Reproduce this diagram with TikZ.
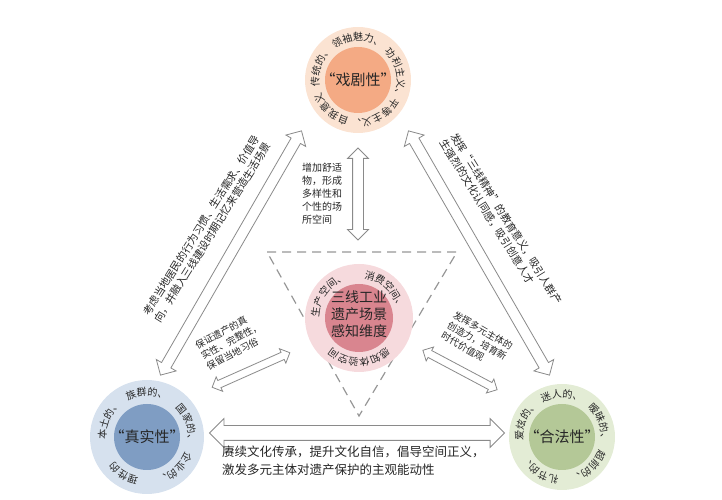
\documentclass[tikz,border=0pt]{standalone}
\usepackage{fontspec}
\setmainfont{Noto Sans CJK SC}
\usetikzlibrary{shapes.arrows,decorations.text}
\definecolor{ringT}{HTML}{FBE3D2}\definecolor{coreT}{HTML}{F4AA84}
\definecolor{ringL}{HTML}{D6E1EE}\definecolor{coreL}{HTML}{7F9DC3}
\definecolor{ringR}{HTML}{E3ECD5}\definecolor{coreR}{HTML}{B4C897}
\definecolor{ringC}{HTML}{F6DADD}\definecolor{coreC}{HTML}{D9858F}
\definecolor{arr}{HTML}{8A8A8A}
\tikzset{
  harrow/.style n args={3}{double arrow, draw=arr, fill=white, line width=0.8pt,
    inner xsep=0pt, inner ysep=0pt, text height=0.5*#2, text depth=0.5*#2, text width=0pt,
    minimum height=#1, double arrow head extend=#3, double arrow head indent=0pt},
  lbl/.style={font=\fontsize{10}{12.5}\selectfont, text=black!85, inner sep=0pt},
  core/.style={font=\fontsize{15}{18}\selectfont, text=black!85}
}
\newcommand{\ringtxt}[5]{%
  \path[decorate,decoration={text along path, text align=center,
    text format delimiters={|}{|}, text={|\fontsize{10}{12}\selectfont\color{black!85}|#5}}]
    (#1) ++(#3:#2) arc[start angle=#3, end angle=#4, radius=#2];}
\begin{document}
\begin{tikzpicture}[x=1pt,y=1pt]
\useasboundingbox (0,0) rectangle (722,500);
% circles
\coordinate (T) at (358,420); \coordinate (BL) at (147,63);
\coordinate (BR) at (562,63); \coordinate (C) at (359,182);
\fill[ringT] (T) circle (53); \fill[coreT] (T) circle (33);
\fill[ringL] (BL) circle (57); \fill[coreL] (BL) circle (33);
\fill[ringR] (BR) circle (53); \fill[coreR] (BR) circle (33);
% dashed triangle
\draw[arr!90, dash pattern=on 9pt off 6pt, line width=1.2pt]
  (267,248) coordinate (ta) -- (457,248) coordinate (tb) -- (359,84) coordinate (tc) -- cycle;
\fill[ringC] (C) circle (54); \fill[coreC] (C) circle (34);
% core labels
\node[core] (nT) at (T) {“戏剧性”};
\node[core] (nL) at (BL) {“真实性”};
\node[core] (nR) at (BR) {“合法性”};
\node[font=\fontsize{14}{17}\selectfont, align=center, text=black!85] (nC) at (359,186) {三线工业\\遗产场景\\感知维度};
% ring texts
\ringtxt{T}{39}{195}{125}{传统的、}
\ringtxt{T}{39}{128}{52}{领袖魅力、}
\ringtxt{T}{39}{45}{-25}{功利主义、}
\ringtxt{T}{39}{-28}{-98}{平等主义、}
\ringtxt{T}{39}{-100}{-165}{自我意义}
\ringtxt{BL}{41}{190}{122}{本土的、}
\ringtxt{BL}{41}{122}{58}{族群的、}
\ringtxt{BL}{41}{50}{-15}{国家的、}
\ringtxt{BL}{41}{-18}{-80}{企业的、}
\ringtxt{BL}{41}{-95}{-150}{理性的}
\ringtxt{BR}{39}{190}{122}{爱炫的、}
\ringtxt{BR}{39}{122}{58}{迷人的、}
\ringtxt{BR}{39}{52}{-12}{暧昧的、}
\ringtxt{BR}{39}{-15}{-82}{超前的、}
\ringtxt{BR}{39}{-92}{-155}{礼节的、}
\ringtxt{C}{40}{178}{108}{生产空间、}
\ringtxt{C}{40}{82}{12}{消费空间、}
\ringtxt{C}{40}{-40}{-140}{感知体验空间}
% arrows
\node[harrow={282}{10pt}{6pt}, rotate=60] (aL) at (231,247) {};
\node[harrow={282}{10pt}{6pt}, rotate=-60] (aR) at (479,247) {};
\node[harrow={295}{14pt}{7pt}] (aB) at (357,67) {};
\node[harrow={92}{10pt}{5pt}, rotate=90] (aV) at (358,306) {};
\node[harrow={85}{7pt}{4pt}, rotate=24] (aSL) at (251,130) {};
\node[harrow={84}{7pt}{4pt}, rotate=-28] (aSR) at (460,130) {};
% labels
\node[lbl, align=left, rotate=58, font=\fontsize{10.5}{13}\selectfont] (tL) at (207,271)
  {考虑当地居民的行为习惯、生活需求、价值导\\向，并融入三线建设时期记忆来营造生活场景};
\node[lbl, align=left, rotate=-58, font=\fontsize{10.5}{13}\selectfont] (tR) at (501,278)
  {发挥“三线精神”的教育意义，吸引人群产\\生强烈的文化认同感，吸引创意人才};
\node[lbl, align=left, anchor=north west, font=\fontsize{10}{13}\selectfont] (tV) at (302,337)
  {增加舒适\\物，形成\\多样性和\\个性的场\\所空间};
\node[lbl, align=left, rotate=28, font=\fontsize{9.5}{12}\selectfont] (tSL) at (231,159)
  {保证遗产的真\\实性、完整性，\\保留当地习俗};
\node[lbl, align=left, rotate=-30, font=\fontsize{9.5}{12}\selectfont] (tSR) at (477,159)
  {发挥多元主体的\\创造力，培育新\\时代价值观};
\node[lbl, align=left, anchor=north west, font=\fontsize{12.5}{18}\selectfont] (tB) at (222,54)
  {赓续文化传承，提升文化自信，倡导空间正义，\\激发多元主体对遗产保护的主观能动性};
\end{tikzpicture}
\end{document}
